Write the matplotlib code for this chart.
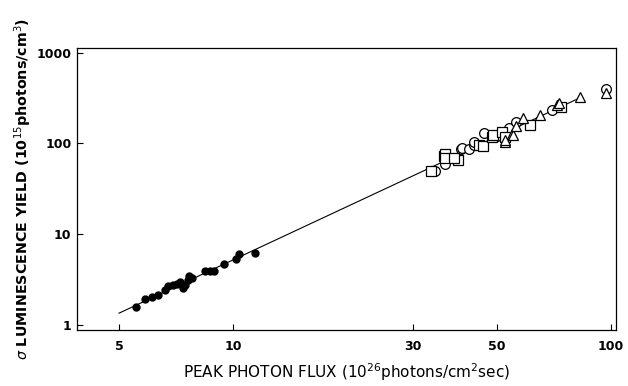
# luminescence yield vs peak photon flux, log-log
import matplotlib.pyplot as plt
from matplotlib.ticker import FixedLocator, FixedFormatter, NullLocator

# filled circles (low flux)
filled_x = [5.55, 5.86, 6.1, 6.35, 6.6, 6.75, 6.96, 7.1, 7.25, 7.4, 7.45, 7.63, 7.67, 7.8,
            8.45, 8.7, 8.93, 9.49, 10.2, 10.4, 11.45]
filled_y = [1.57, 1.94, 2.05, 2.14, 2.43, 2.69, 2.76, 2.83, 3.0, 2.54, 2.76, 3.13, 3.47, 3.27,
            3.93, 3.96, 3.96, 4.7, 5.3, 6.06, 6.17]

# open circles
circ_x = [34.3, 36.3, 38.3, 40.0, 40.3, 42.2, 43.3, 43.5, 46.2, 49.97, 53.6, 56.1, 69.8, 97.2]
circ_y = [50.3, 59.6, 68.9, 86.0, 88.7, 87.0, 96.0, 105, 132, 121, 147, 174, 235, 397]

# open squares
sq_x = [33.4, 36.2, 36.3, 36.3, 39.4, 38.5, 44.9, 45.8, 48.4, 48.9, 51.5, 52.5, 60.9, 73.8]
sq_y = [50.3, 72.0, 76.8, 68.9, 65.9, 70.0, 96.0, 94.8, 119, 124, 133, 119, 160, 251]

# open triangles
tri_x = [52.3, 52.4, 54.7, 55.0, 56.1, 58.7, 65.0, 71.9, 73.0, 82.9, 97.0]
tri_y = [105, 108, 128, 125, 156, 190, 207, 267, 278, 321, 364]

# fitted line end points
fit_x = [5.0, 83.0]
fit_y = [1.35, 320]

xticks = [5, 10, 30, 50, 100]
yticks = [1, 10, 100, 1000]

fig = plt.figure(figsize=(6.28, 3.86), dpi=100)
ax = fig.add_axes([0.1226, 0.145, 0.858, 0.731])

ax.plot(fit_x, fit_y, color='black', lw=0.8)
ax.plot(filled_x, filled_y, 'o', color='black', ms=5)
ax.plot(circ_x, circ_y, 'o', mfc='white', mec='black', mew=0.9, ms=7)
ax.plot(sq_x, sq_y, 's', mfc='white', mec='black', mew=0.9, ms=6.5)
ax.plot(tri_x, tri_y, '^', mfc='white', mec='black', mew=0.9, ms=7.5)

ax.set_xscale('log')
ax.set_yscale('log')
ax.set_xlim(3.87, 103)
ax.set_ylim(0.88, 1130)

ax.xaxis.set_major_locator(FixedLocator(xticks))
ax.xaxis.set_major_formatter(FixedFormatter([str(t) for t in xticks]))
ax.xaxis.set_minor_locator(NullLocator())
ax.yaxis.set_major_locator(FixedLocator(yticks))
ax.yaxis.set_major_formatter(FixedFormatter([str(t) for t in yticks]))
ax.yaxis.set_minor_locator(NullLocator())
ax.tick_params(direction='in', length=4, width=0.8, labelsize=9)
ax.tick_params(axis='x', pad=7)
ax.tick_params(axis='y', pad=4)
for lab in ax.get_xticklabels() + ax.get_yticklabels():
    lab.set_fontweight('bold')

for s in ax.spines.values():
    s.set_linewidth(0.9)

ax.set_xlabel(r'PEAK PHOTON FLUX (10$^{26}$photons/cm$^2$sec)', fontsize=11, labelpad=6)
ax.set_ylabel(r'$\sigma$ LUMINESCENCE YIELD (10$^{15}$photons/cm$^3$)', fontsize=10.3,
              fontweight='bold', labelpad=2)

fig.savefig('out.png', dpi=100)
